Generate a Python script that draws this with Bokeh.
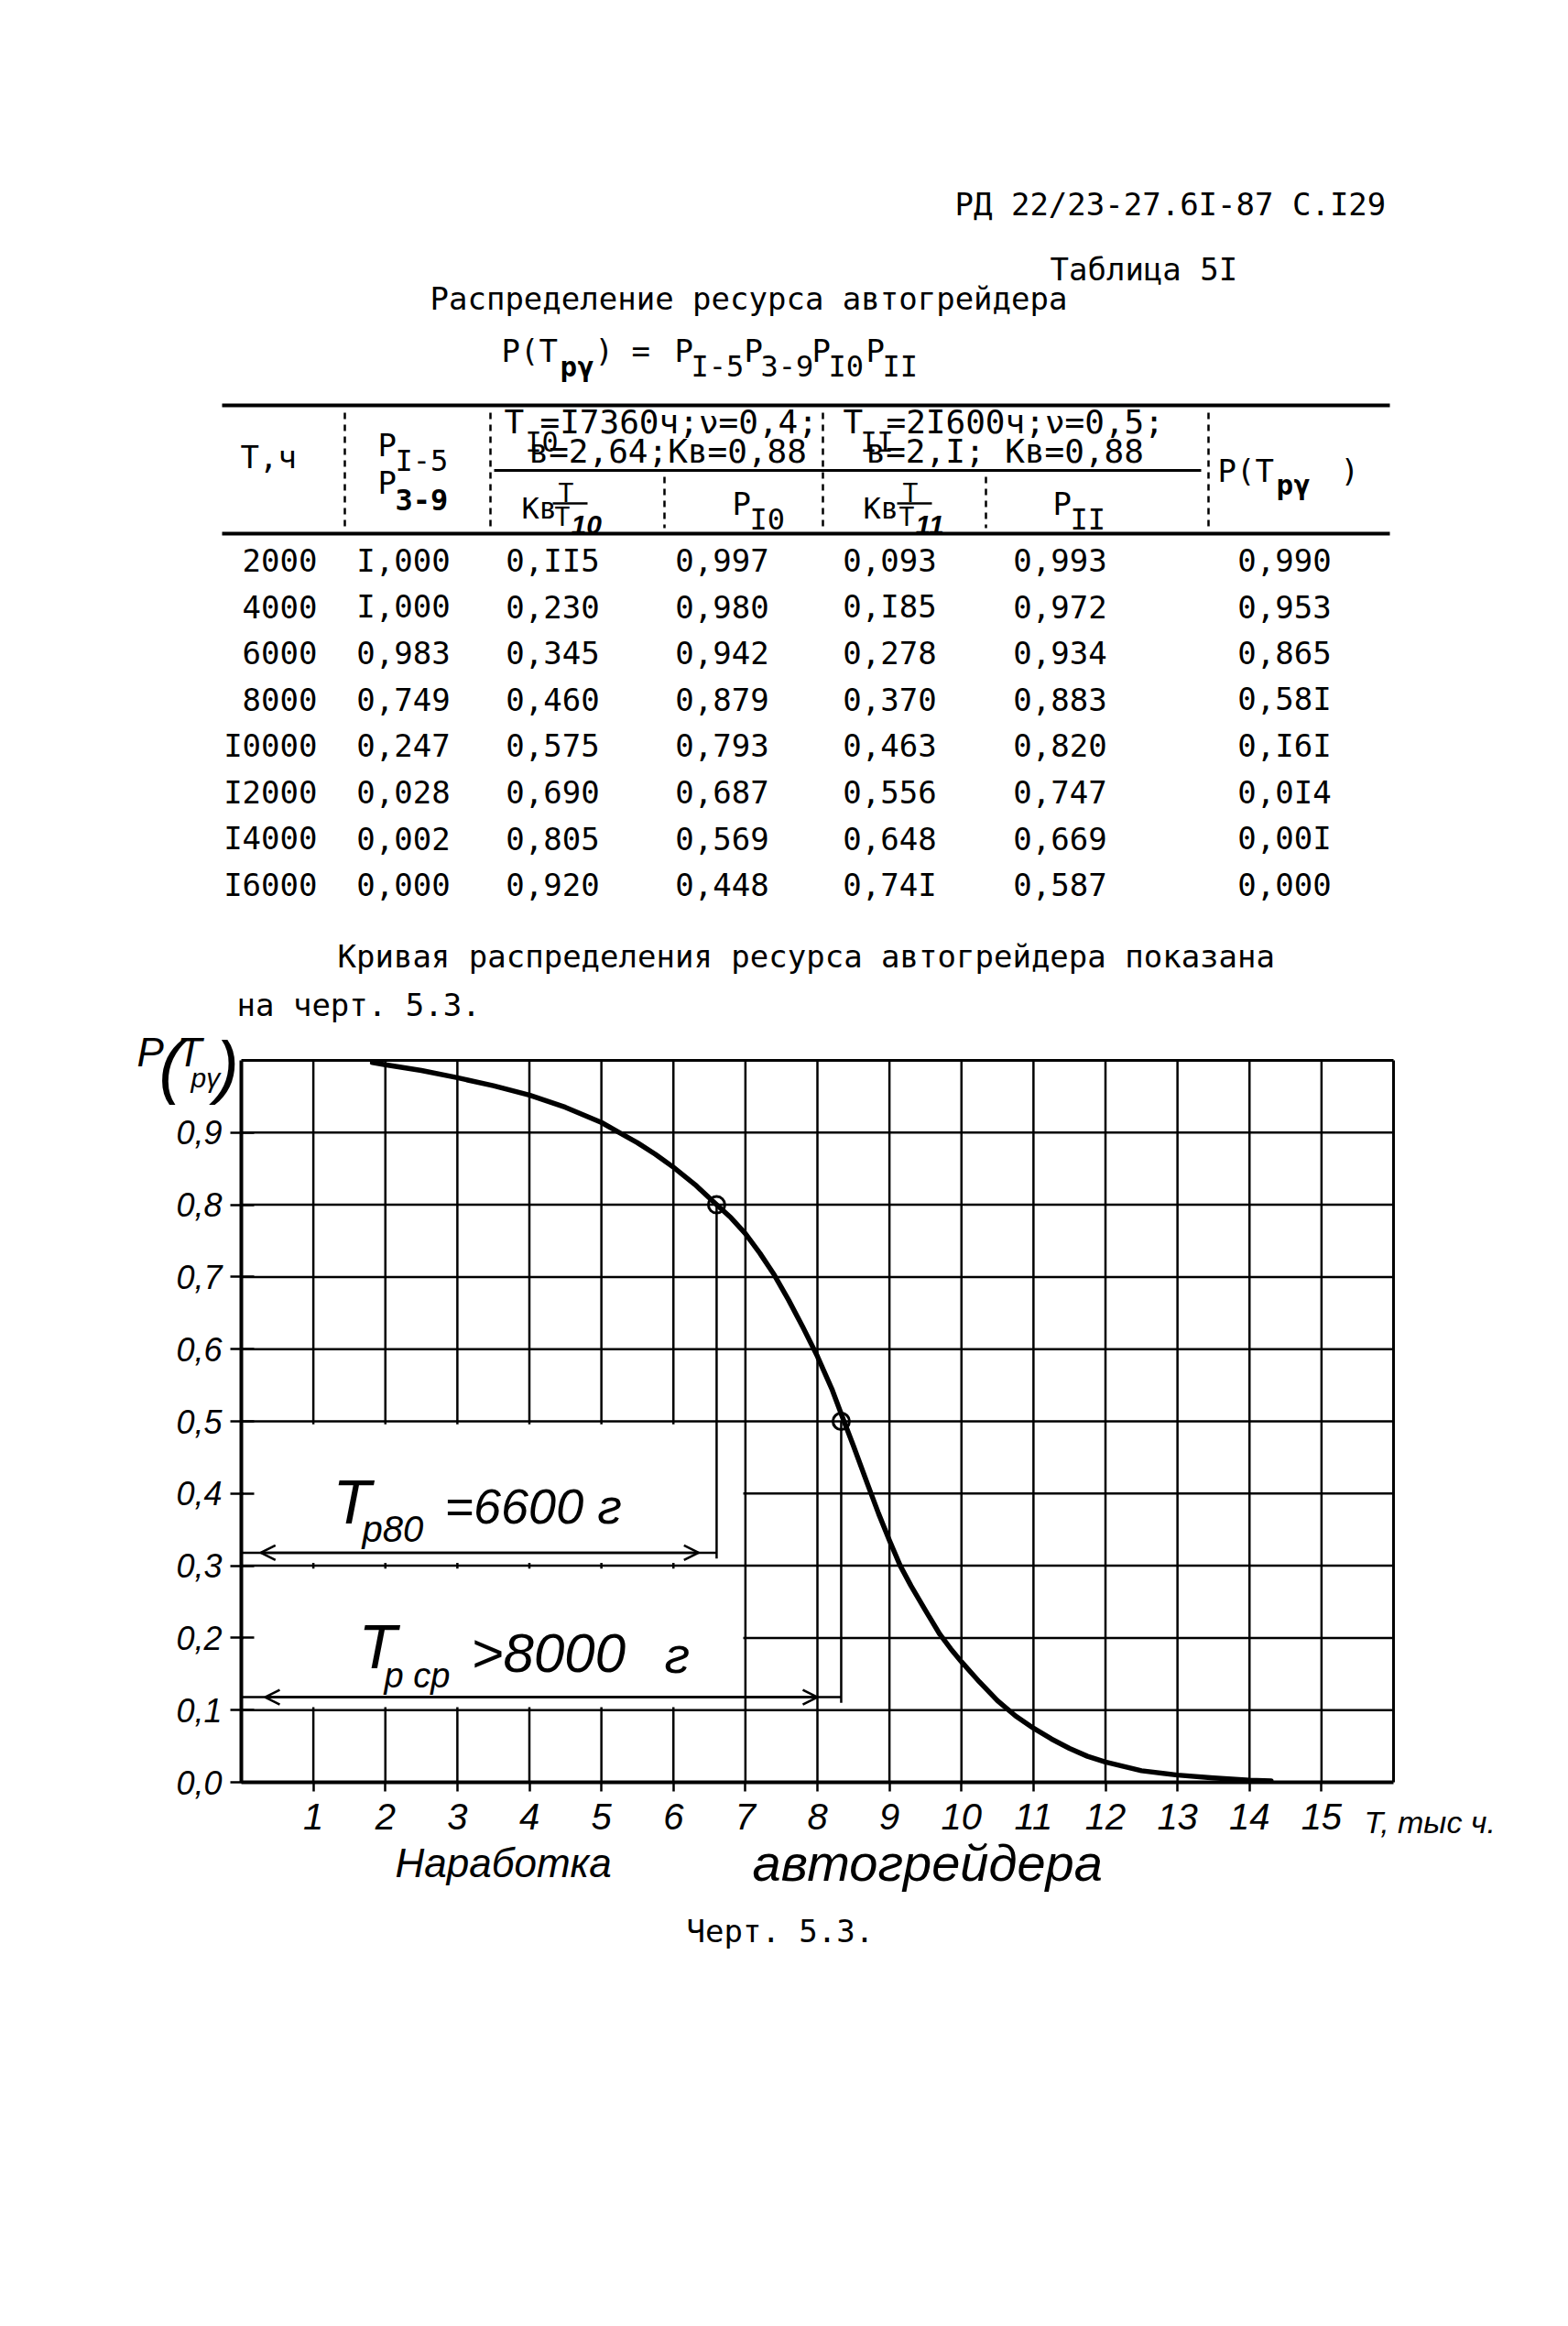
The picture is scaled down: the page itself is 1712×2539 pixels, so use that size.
from bokeh.plotting import figure
from bokeh.models import (Range1d, Label, Arrow, OpenHead, FixedTicker,
                          CustomJSTickFormatter, ColumnDataSource)
from bokeh.embed import file_html
from bokeh.resources import INLINE
from bokeh.core.properties import value

# ---------------- data (read from the page) ----------------
T_hours = ["2000", "4000", "6000", "8000", "I0000", "I2000", "I4000", "I6000"]
P_I5_P39 = ["I,000", "I,000", "0,983", "0,749", "0,247", "0,028", "0,002", "0,000"]
Kb_T_T10 = ["0,II5", "0,230", "0,345", "0,460", "0,575", "0,690", "0,805", "0,920"]
P_I0 = ["0,997", "0,980", "0,942", "0,879", "0,793", "0,687", "0,569", "0,448"]
Kb_T_T11 = ["0,093", "0,I85", "0,278", "0,370", "0,463", "0,556", "0,648", "0,74I"]
P_II = ["0,993", "0,972", "0,934", "0,883", "0,820", "0,747", "0,669", "0,587"]
P_Trg = ["0,990", "0,953", "0,865", "0,58I", "0,I6I", "0,0I4", "0,00I", "0,000"]

# curve of the chart (T, thousand hours -> P(T))
curve_T = [1.82, 2.0, 2.5, 3.0, 3.5, 4.0, 4.5, 5.0, 5.25, 5.5, 5.75, 6.0, 6.3, 6.6,
           6.8, 7.0, 7.2, 7.4, 7.6, 7.8, 8.0, 8.2, 8.35, 8.5, 8.7, 8.85, 9.0, 9.15,
           9.3, 9.5, 9.7, 9.85, 10.0, 10.25, 10.5, 10.75, 11.0, 11.25, 11.5, 11.75,
           12.0, 12.5, 13.0, 13.5, 14.0, 14.3]
curve_P = [0.997, 0.994, 0.986, 0.976, 0.965, 0.952, 0.935, 0.914, 0.900, 0.886, 0.870,
           0.852, 0.828, 0.800, 0.782, 0.760, 0.733, 0.703, 0.668, 0.630, 0.590, 0.545,
           0.505, 0.466, 0.412, 0.372, 0.335, 0.300, 0.272, 0.238, 0.205, 0.185, 0.167,
           0.139, 0.113, 0.092, 0.075, 0.060, 0.047, 0.036, 0.028, 0.016, 0.010, 0.006,
           0.003, 0.002]
marker_T = [6.6, 8.33]      # T_p80 and T_p.cp
marker_P = [0.8, 0.5]
x_ticks = [1, 2, 3, 4, 5, 6, 7, 8, 9, 10, 11, 12, 13, 14, 15]
y_ticks = [0.0, 0.1, 0.2, 0.3, 0.4, 0.5, 0.6, 0.7, 0.8, 0.9]
X_MAX, Y_MAX = 16, 1.0

MONO = "DejaVu Sans Mono"
HAND = "Liberation Sans"

# ---------------- page geometry ----------------
W, H = 1696, 2500                      # canvas covers page x 8..1704, y 8..2508
PX0, PX1, PY0, PY1 = 8, 8 + W, 8, 8 + H
OX, OY = 7, 6                          # shift of the text layer
FR_L, FR_R, FR_T, FR_B = 271, 1529, 1165, 1953   # chart grid box on the page
ux = (FR_R - FR_L) / X_MAX
uy = (FR_B - FR_T) / Y_MAX

p = figure(width=W, height=H, output_backend="svg", toolbar_location=None, min_border=0,
           x_range=Range1d((PX0 - FR_L) / ux, (PX1 - FR_L) / ux),
           y_range=Range1d((FR_B - PY1) / uy, (FR_B - PY0) / uy))
p.extra_x_ranges = {"page": Range1d(PX0 - OX, PX1 - OX)}
p.extra_y_ranges = {"page": Range1d(PY1 - OY, PY0 - OY)}
p.outline_line_color = None
p.background_fill_color = "white"
p.border_fill_color = "white"
p.grid.visible = False


def lab(x, y, s, size=34, font=MONO, align="left", style="normal", baseline="middle"):
    p.add_layout(Label(x=x, y=y, text=s, text_font=font, text_font_size=f"{size}px",
                       text_align=align, text_baseline=baseline, text_font_style=style,
                       text_color="black", x_range_name="page", y_range_name="page"))


def hand(x, y, s, size, style="italic"):
    lab(x, y, s, size, font=HAND, style=style)


# ---------------- heading ----------------
lab(1043, 224, "РД 22/23-27.6I-87 С.I29")
lab(1147, 295, "Таблица 5I")
lab(470, 327, "Распределение ресурса автогрейдера")

fy, sy = 384, 401
lab(548, fy, "P(T")
lab(612, sy, "рγ", 31, style="bold")
lab(650, fy, ")")
lab(690, fy, "=")
lab(737, fy, "P")
lab(755, sy, "I-5", 32)
lab(813, fy, "P")
lab(831, sy, "3-9", 32)
lab(887, fy, "P")
lab(905, sy, "I0", 32)
lab(946, fy, "P")
lab(964, sy, "II", 32)

# ---------------- table ----------------
PG = dict(x_range_name="page", y_range_name="page")
p.segment(x0=[243, 243, 540], x1=[1518, 1518, 1312], y0=[444, 584, 515], y1=[444, 584, 515],
          line_color="black", line_width=[4, 4, 3], **PG)
p.segment(x0=[377, 536, 899, 1320], x1=[377, 536, 899, 1320], y0=[452] * 4, y1=[578] * 4,
          line_color="black", line_width=2.5, line_dash="7 6", **PG)
p.segment(x0=[726, 1077], x1=[726, 1077], y0=[522] * 2, y1=[578] * 2,
          line_color="black", line_width=2.5, line_dash="7 6", **PG)

lab(263, 500, "T,ч")
lab(413, 487, "P")
lab(432, 504, "I-5", 32)
lab(413, 528, "P")
lab(432, 547, "3-9", 32, style="bold")
lab(1330, 515, "P(T")
lab(1394, 530, "рγ", 31, style="bold")
lab(1464, 515, ")")

lab(551, 462, "T", 36)
lab(574, 484, "I0", 30)
lab(590, 462, "=I7360ч;ν=0,4;", 36)
lab(921, 462, "T", 36)
lab(940, 484, "II", 30)
lab(968, 462, "=2I600ч;ν=0,5;", 36)
lab(578, 494, "в=2,64;Кв=0,88", 36)
lab(946, 494, "в=2,I; Кв=0,88", 36)

# lower header row
lab(570, 556, "Кв", 32)
lab(610, 540, "T", 28)
p.segment(x0=[604, 980], x1=[642, 1018], y0=[551, 551], y1=[551, 551],
          line_color="black", line_width=2.5, **PG)
lab(606, 566, "T", 28)
hand(624, 574, "10", 30, style="bold italic")
lab(800, 551, "P")
lab(819, 568, "I0", 32)
lab(943, 556, "Кв", 32)
lab(986, 540, "T", 28)
lab(982, 566, "T", 28)
hand(1000, 574, "11", 30, style="bold italic")
lab(1150, 551, "P")
lab(1169, 568, "II", 32)

columns = [T_hours, P_I5_P39, Kb_T_T10, P_I0, Kb_T_T11, P_II, P_Trg]
col_x = [347, 441, 604, 789, 972, 1158, 1403]
col_align = ["right", "center", "center", "center", "center", "center", "center"]
row_y0, row_dy = 613, 50.6
for j, col in enumerate(columns):
    src = ColumnDataSource(dict(x=[col_x[j]] * len(col),
                                y=[row_y0 + i * row_dy for i in range(len(col))],
                                t=col))
    p.text("x", "y", "t", source=src, text_align=col_align[j], text_baseline="middle",
           text_font=value(MONO), text_font_size="34px", text_color="black", **PG)

lab(369, 1045, "Кривая распределения ресурса автогрейдера показана")
lab(259, 1098, "на черт. 5.3.")

# ---------------- chart (default ranges = chart data units) ----------------
# grid lines at the tick positions
p.segment(x0=x_ticks, x1=x_ticks, y0=[0] * len(x_ticks), y1=[Y_MAX] * len(x_ticks),
          line_color="black", line_width=2.5)
p.segment(x0=[0] * (len(y_ticks) - 1), x1=[X_MAX] * (len(y_ticks) - 1), y0=y_ticks[1:], y1=y_ticks[1:],
          line_color="black", line_width=2.5)
# top and right border of the grid
p.segment(x0=[0, X_MAX], x1=[X_MAX, X_MAX], y0=[Y_MAX, 0], y1=[Y_MAX, Y_MAX],
          line_color="black", line_width=3)
# blank fields for the dimension labels (grid interrupted there)
p.quad(left=[0.03, 0.03], right=[6.97, 6.97], bottom=[0.104, 0.304], top=[0.296, 0.496],
       fill_color="white", line_color=None)

xa, ya = p.xaxis[0], p.yaxis[0]
xa.fixed_location = 0
ya.fixed_location = 0
xa.bounds = (0, X_MAX)
ya.bounds = (0, Y_MAX)
xa.ticker = FixedTicker(ticks=x_ticks)
ya.ticker = FixedTicker(ticks=y_ticks)
ya.formatter = CustomJSTickFormatter(code="return tick.toFixed(1).replace('.', ',');")
for ax in (xa, ya):
    ax.axis_line_width = 4
    ax.axis_line_color = "black"
    ax.major_tick_line_width = 2.5
    ax.major_tick_line_color = "black"
    ax.minor_tick_line_color = None
    ax.major_label_text_font = HAND
    ax.major_label_text_font_style = "italic"
    ax.major_label_text_color = "black"
xa.major_tick_out = 10
xa.major_tick_in = 0
xa.major_label_standoff = 13
xa.major_label_text_font_size = "40px"
ya.major_tick_out = 12
ya.major_tick_in = 14
ya.major_label_standoff = 9
ya.major_label_text_font_size = "36px"

# the distribution curve
p.line(curve_T, curve_P, line_color="black", line_width=5.5, line_join="round", line_cap="round")

# dimension lines
p.segment(x0=marker_T, x1=marker_T, y0=marker_P, y1=[0.31, 0.11], line_color="black", line_width=2.5)
p.segment(x0=[0, 0], x1=marker_T, y0=[0.318, 0.118], y1=[0.318, 0.118], line_color="black", line_width=2.5)
p.add_layout(Arrow(x_start=0.27, y_start=0.318, x_end=6.35, y_end=0.318, line_width=2.5,
                   start=OpenHead(size=16, line_width=2.5), end=OpenHead(size=16, line_width=2.5)))
p.add_layout(Arrow(x_start=0.33, y_start=0.118, x_end=8.0, y_end=0.118, line_width=2.5,
                   start=OpenHead(size=16, line_width=2.5), end=OpenHead(size=16, line_width=2.5)))
p.scatter(marker_T, marker_P, marker="circle", size=18, fill_color=None, line_color="black", line_width=3)

# hand-written labels of the chart (page coordinates)
hand(364, 1640, "T", 68)
hand(396, 1670, "р80", 40)
hand(486, 1645, "=6600 г", 54)
hand(392, 1798, "T", 68)
hand(420, 1830, "р ср", 38)
hand(515, 1806, ">8000", 60)
hand(726, 1808, "г", 56)

hand(150, 1150, "P", 44)
hand(174, 1165, "(", 76)
hand(194, 1150, "T", 44)
hand(209, 1178, "рγ", 30)
hand(236, 1165, ")", 76)

hand(1490, 1990, "T, тыс ч.", 34)
hand(432, 2035, "Наработка", 44)
hand(822, 2035, "автогрейдера", 56)
lab(750, 2109, "Черт. 5.3.", 34)

open("out.html", "w").write(file_html(p, INLINE))
